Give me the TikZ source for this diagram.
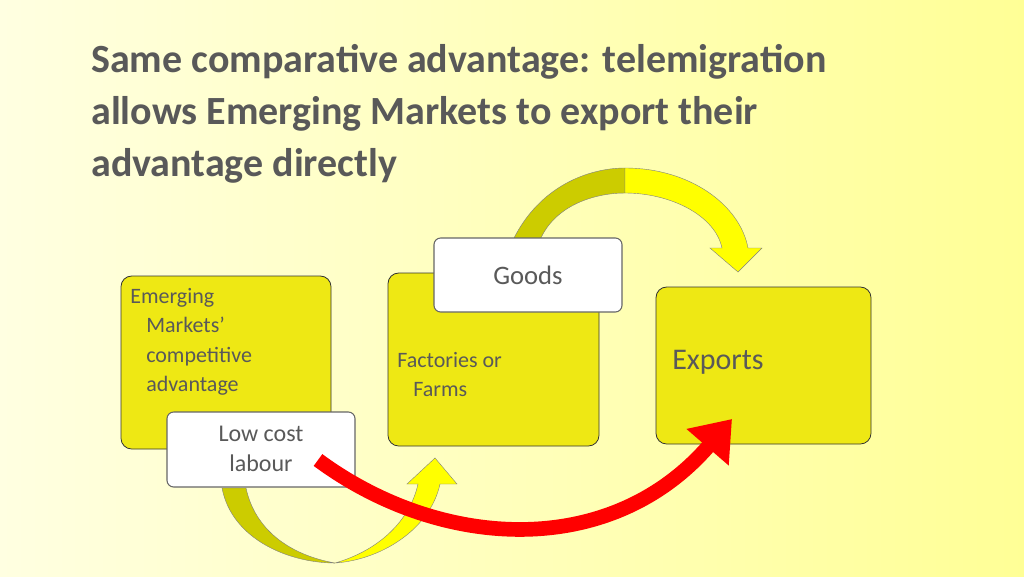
\documentclass[tikz,border=0pt]{standalone}
\usepackage{fontspec}
\setmainfont{Carlito}
\usetikzlibrary{arrows.meta}
\definecolor{boxy}{HTML}{EEE814}
\definecolor{txt}{HTML}{595959}
\definecolor{arry}{HTML}{FFFF00}
\definecolor{arrd}{HTML}{CCCC00}
\tikzset{
 ybox/.style={draw=black!80,fill=boxy,rounded corners=8pt,line width=0.6pt},
 wbox/.style={draw=black!60,fill=white,rounded corners=5pt,line width=0.8pt},
 lbl/.style={text=txt,font=\fontsize{16.5}{22}\selectfont,align=left,anchor=north west,inner sep=0pt},
 band/.style={draw=black!50,line width=0.3pt}
}
\begin{document}
\begin{tikzpicture}[x=0.75pt,y=-0.75pt]
\shade[left color={rgb,255:red,255;green,255;blue,225},right color={rgb,255:red,255;green,255;blue,150}] (0,0) rectangle (1024,576);
\useasboundingbox (0,0) rectangle (1024,576);
\node[anchor=north west,inner sep=0pt,text=txt,font=\bfseries\fontsize{30}{39}\selectfont,align=left] (title) at (91,44) {Same comparative advantage: telemigration\\allows Emerging Markets to export their\\advantage directly};
% top yellow arrow
\fill[band,fill=arrd] (513,240) .. controls (540,185) and (590,168) .. (625,168) -- (625,193) .. controls (595,193) and (555,205) .. (540,240) -- cycle;
\fill[band,fill=arry] (625,168) .. controls (690,168) and (740,205) .. (748,248) -- (762,248) -- (738,272) -- (710,248) -- (722,248) .. controls (715,215) and (670,193) .. (625,193) -- cycle;
\draw[band] (625,168) -- (625,168);
% boxes
\draw[ybox] (121,276) rectangle (331,449);
\node[lbl] (em) at (130,288) {Emerging\\\hspace*{12pt}Markets’\\\hspace*{12pt}competitive\\\hspace*{12pt}advantage};
\draw[ybox] (388,273) rectangle (599,446);
\node[lbl] (ff) at (397,352) {Factories or\\\hspace*{12pt}Farms};
\draw[ybox] (656,287) rectangle (871,444);
\node[lbl,font=\fontsize{22.5}{28}\selectfont] (ex) at (672,350) {Exports};
\draw[wbox] (167,412) rectangle (355,487);
\node[text=txt,font=\fontsize{18}{23}\selectfont,align=center,inner sep=0pt] (lc) at (261,449) {Low cost\\labour};
\draw[wbox] (434,238) rectangle (622,312);
\node[text=txt,font=\fontsize{20}{24}\selectfont,inner sep=0pt] (gd) at (528,275) {Goods};
% bottom yellow arrow
\fill[band,fill=arrd] (222,488) .. controls (232,540) and (290,563) .. (335,563) .. controls (290,555) and (255,530) .. (246,488) -- cycle;
\fill[band,fill=arry] (335,563) .. controls (380,560) and (430,530) .. (440,484) -- (457,484) -- (435,458) -- (407,484) -- (418,484) .. controls (410,520) and (380,550) .. (335,563) -- cycle;
% red arrow
\coordinate (rs) at (318,460);
\coordinate (re) at (732,419);
\draw[red,line width=11pt,-{Triangle[length=28pt,width=40pt]}] (rs) .. controls (440,550) and (610,560) .. (re);
\end{tikzpicture}
\end{document}
